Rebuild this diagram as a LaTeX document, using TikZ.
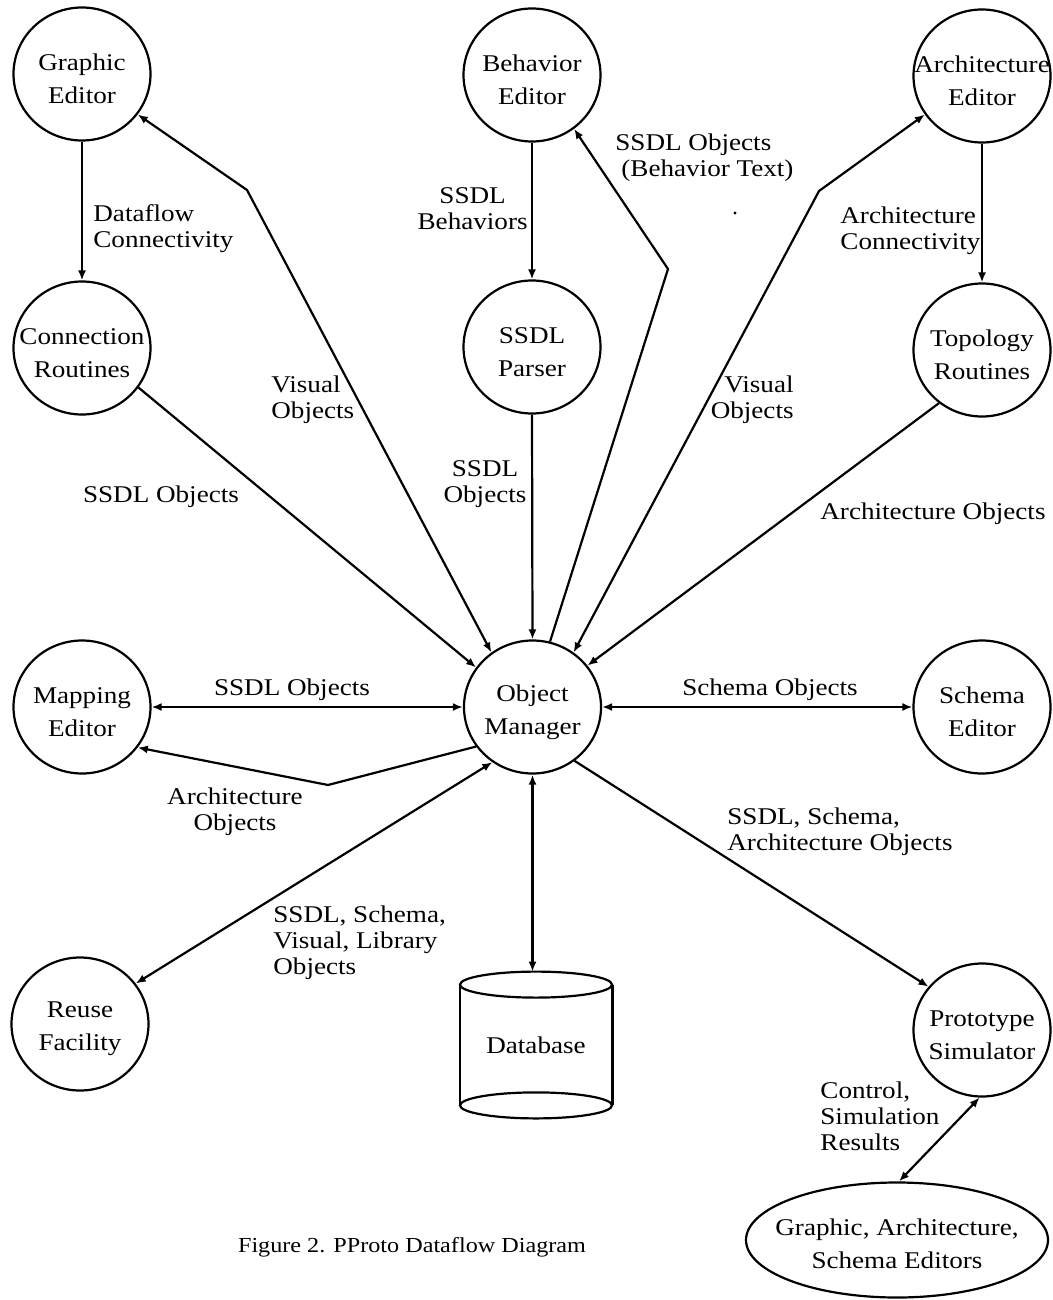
\documentclass[tikz,border=0pt]{standalone}
\usepackage{fontspec}
\setmainfont{Liberation Serif}[FakeStretch=1.13]
\usetikzlibrary{shapes.geometric,arrows.meta}
\begin{document}
\begin{tikzpicture}[x=0.5pt,y=-0.5pt,
  proc/.style={ellipse,draw,line width=1.1pt,minimum width=68.5pt,minimum height=66.5pt,inner sep=0pt},
  ptext/.style={align=center,inner sep=0pt,font=\fontsize{12}{16.5}\selectfont},
  lbl/.style={inner sep=0pt,font=\fontsize{12}{13}\selectfont},
  wire/.style={line width=1.1pt},
  flow/.style={wire,-{Latex[length=5pt,width=4pt]}},
  biflow/.style={wire,{Latex[length=5pt,width=4pt]}-{Latex[length=5pt,width=4pt]}}]
\useasboundingbox (0,0) rectangle (1053,1300);

% processes (circles) with their names
\node[proc] (ge) at (82,74) {};
\node[ptext] (ge-t) at ([yshift=-2.5pt]ge.center) {Graphic\\Editor};
\node[proc] (be) at (532,75) {};
\node[ptext] (be-t) at ([yshift=-2.5pt]be.center) {Behavior\\Editor};
\node[proc] (ae) at (982,76) {};
\node[ptext] (ae-t) at ([yshift=-2.5pt]ae.center) {Architecture\\Editor};
\node[proc] (cr) at (82,348) {};
\node[ptext] (cr-t) at ([yshift=-2.5pt]cr.center) {Connection\\Routines};
\node[proc] (sp) at (532,347) {};
\node[ptext] (sp-t) at ([yshift=-2.5pt]sp.center) {SSDL\\Parser};
\node[proc] (tr) at (982,350) {};
\node[ptext] (tr-t) at ([yshift=-2.5pt]tr.center) {Topology\\Routines};
\node[proc] (me) at (82,707) {};
\node[ptext] (me-t) at ([yshift=-2.5pt]me.center) {Mapping\\Editor};
\node[proc] (om) at (532.5,707) {};
\node[ptext] (om-t) at ([yshift=-2.5pt]om.center) {Object\\Manager};
\node[proc] (se) at (982,707) {};
\node[ptext] (se-t) at ([yshift=-2.5pt]se.center) {Schema\\Editor};
\node[proc] (rf) at (80,1024) {};
\node[ptext] (rf-t) at ([yshift=-2.5pt]rf.center) {Reuse\\Facility};
\node[proc] (ps) at (982,1030) {};
\node[ptext] (ps-t) at ([yshift=-2.5pt]ps.center) {Prototype\\Simulator};
\node[ellipse,draw,line width=1.1pt,minimum width=151pt,minimum height=57.5pt,inner sep=0pt] (ed) at (897,1240) {};
\node[ptext] (ed-t) at ([yshift=-2pt]ed.center) {Graphic, Architecture,\\Schema Editors};

% database store drawn as a cylinder
\node[lbl,minimum width=76pt,minimum height=73pt] (db) at (536,1045) {Database};
\draw[wire] ([yshift=-6.5pt]db.north) ellipse [x radius=38pt,y radius=6.5pt];
\draw[wire] ([yshift=6.5pt]db.south) ellipse [x radius=38pt,y radius=6.5pt];
\draw[wire] ([yshift=-6.5pt]db.north west) -- ([yshift=6.5pt]db.south west);
\draw[wire] ([yshift=-6.5pt]db.north east) -- ([yshift=6.5pt]db.south east);

% bend points
\coordinate (vb1) at (247,190);
\coordinate (bt) at (668,269);
\coordinate (vb2) at (819,191);
\coordinate (ab) at (328,785);

% dataflows
\draw[flow] (ge.south) -- (cr.north);
\draw[flow] (be.south) -- (sp.north);
\draw[flow] (ae.south) -- (tr.north);
\draw[flow] (cr.-35) -- (om.145);
\draw[biflow] (ge.-36) -- (vb1) -- (om.127);
\draw[flow] (sp.south) -- (om.north);
\draw[flow] (om.75) -- (bt) -- (be.-52);
\draw[biflow] (om.53) -- (vb2) -- (ae.214);
\draw[flow] (tr.231) -- (om.37);
\draw[biflow] (me.east) -- (om.west);
\draw[biflow] (om.east) -- (se.west);
\draw[flow] (om.215) -- (ab) -- (me.-36);
\draw[biflow] (rf.36) -- (om.234);
\draw[biflow] (om.south) -- (om.south |- db.north);
\draw[flow] (om.-52) -- (ps.141);
\draw[biflow] (ps.-92) -- (ed.88);

% flow labels
\node[lbl,anchor=west,align=left] (l-dfc) at (93,229) {Dataflow\\Connectivity};
\node[lbl,anchor=east,align=center] (l-sb) at (528,209) {SSDL\\Behaviors};
\node[lbl,anchor=west,align=left] (l-bt) at (615,158) {SSDL Objects\\\hspace{3pt}(Behavior Text)};
\node[lbl,anchor=west,align=left] (l-ac) at (840,231) {Architecture\\Connectivity};
\node[lbl,anchor=west,align=left] (l-vo1) at (271,400) {Visual\\Objects};
\node[lbl,anchor=east,align=right] (l-vo2) at (794,400) {Visual\\Objects};
\node[lbl] (l-so1) at (161,497) {SSDL Objects};
\node[lbl,align=center] (l-so2) at (485,484) {SSDL\\Objects};
\node[lbl,anchor=west] (l-ao1) at (820,514) {Architecture Objects};
\node[lbl] (l-so3) at (292,690) {SSDL Objects};
\node[lbl] (l-sch) at (770,690) {Schema Objects};
\node[lbl,align=center] (l-ao2) at (235,812) {Architecture\\Objects};
\node[lbl,anchor=west,align=left] (l-ssvl) at (273,943) {SSDL, Schema,\\Visual, Library\\Objects};
\node[lbl,anchor=west,align=left] (l-ssao) at (727,832) {SSDL, Schema,\\Architecture Objects};
\node[lbl,anchor=west,align=left] (l-csr) at (820,1116) {Control,\\Simulation\\Results};

\fill (735,213) circle [radius=0.8pt];

% caption
\node[inner sep=0pt,font=\fontsize{10.7}{12}\selectfont] (cap) at (412,1247) {Figure 2. PProto Dataflow Diagram};
\end{tikzpicture}
\end{document}
